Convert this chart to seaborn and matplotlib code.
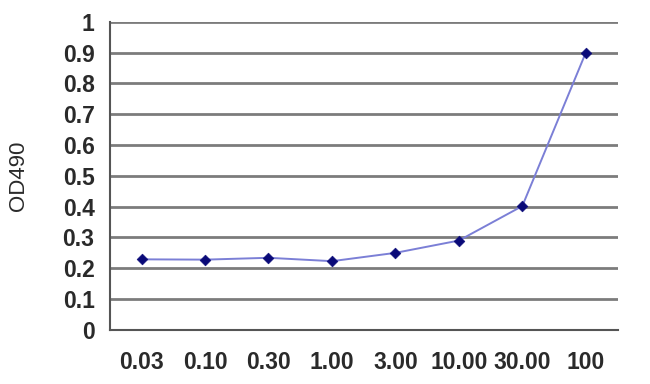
import matplotlib
matplotlib.use("Agg")
import matplotlib.pyplot as plt
import seaborn as sns
import pandas as pd
import numpy as np

categories = ["0.03", "0.10", "0.30", "1.00", "3.00", "10.00", "30.00", "100"]
od490 = [0.229, 0.228, 0.234, 0.223, 0.250, 0.290, 0.402, 0.900]
yticks = [0, 0.1, 0.2, 0.3, 0.4, 0.5, 0.6, 0.7, 0.8, 0.9, 1]
ytick_labels = ["0", "0.1", "0.2", "0.3", "0.4", "0.5", "0.6", "0.7", "0.8", "0.9", "1"]

df = pd.DataFrame({"conc": categories, "od": od490})

sns.set_style("white")
plt.rcParams['font.family'] = ['Liberation Sans', 'DejaVu Sans']

fig = plt.figure(figsize=(6.5, 3.84), dpi=100)
ax = fig.add_axes([0.169, 0.141, 0.781, 0.802])

sns.lineplot(data=df, x="conc", y="od", ax=ax, color="#7b7fd6", linewidth=1.4, sort=False)
sns.scatterplot(data=df, x="conc", y="od", ax=ax, marker="D", s=30, color="#0a0a78",
                edgecolor="#0a0a78", zorder=5)

n = len(categories)
ax.set_xlim(-0.5, n - 0.5)
ax.set_ylim(0, 1)
ax.set_yticks(yticks)
ax.set_yticklabels(ytick_labels)
for y in yticks[1:]:
    ax.axhline(y, color="#7c7c7c", linewidth=2.0, zorder=1)

ax.set_xticks(range(n))
ax.set_xticklabels(categories)
ax.set_xticks(np.arange(-0.5, n, 1.0), minor=True)
ax.tick_params(axis="x", which="major", length=0, pad=15, labelsize=16.5)
ax.tick_params(axis="x", which="minor", length=9, width=1.3, color="#555555", direction="inout")
ax.tick_params(axis="y", which="major", length=5, width=1.3, color="#555555", direction="out", pad=6, labelsize=16.5)
for lab in ax.get_xticklabels() + ax.get_yticklabels():
    lab.set_fontweight("bold")
    lab.set_color("#2a2a2a")

for side in ["top", "right"]:
    ax.spines[side].set_visible(False)
for side in ["left", "bottom"]:
    ax.spines[side].set_color("#555555")
    ax.spines[side].set_linewidth(1.5)

ax.set_xlabel("")
ax.set_ylabel("OD490", fontsize=16, color="#2a2a2a", labelpad=24)

fig.savefig("out.png", dpi=100)
